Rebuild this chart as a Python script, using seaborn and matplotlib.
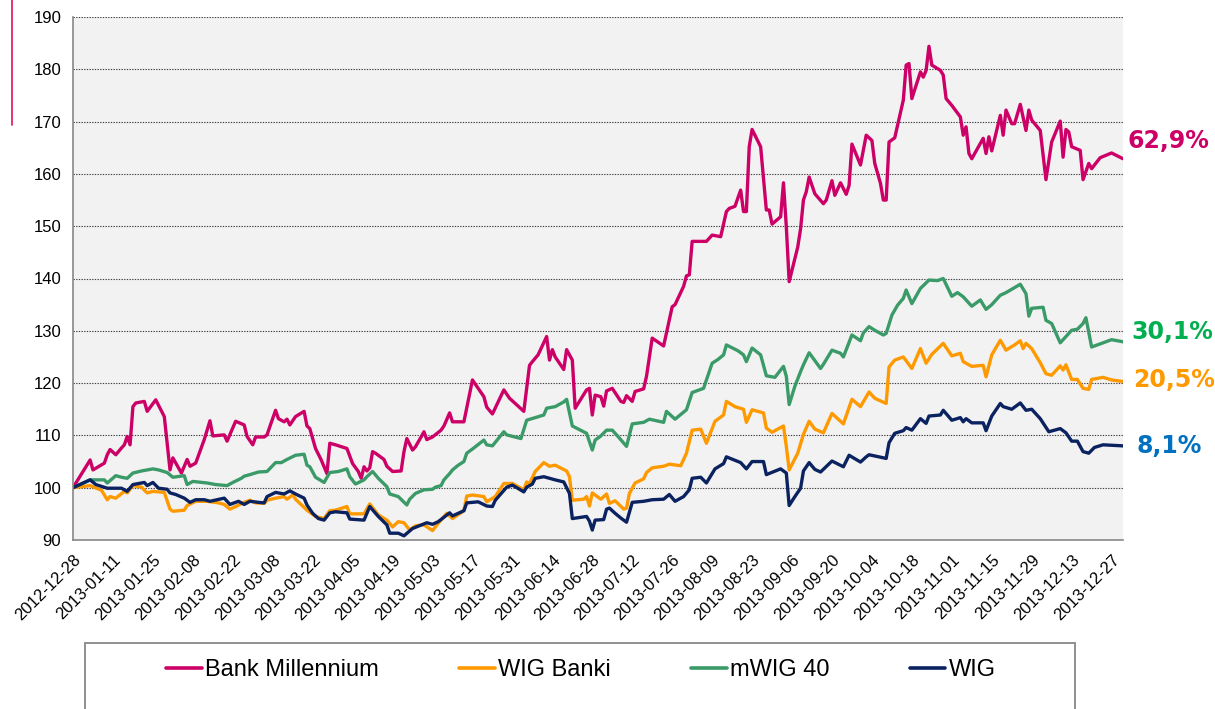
import pandas as pd
import numpy as np
import matplotlib
matplotlib.use("Agg")
import matplotlib.pyplot as plt
import matplotlib.dates as mdates
from matplotlib.lines import Line2D
from matplotlib.patches import Rectangle
from matplotlib.transforms import blended_transform_factory
import seaborn as sns

# --- data: day offsets from 2012-12-28 and index values (start = 100) ---
start = pd.Timestamp("2012-12-28")

bm_day = [0, 6, 7, 11, 12, 13, 15, 17, 18, 19,
          20, 21, 22, 25, 26, 29, 32, 34, 35, 38,
          40, 41, 43, 46, 48, 49, 53, 54, 57, 60,
          61, 63, 64, 67, 68, 69, 71, 72, 74, 75,
          76, 78, 81, 82, 83, 85, 87, 89, 90, 92,
          96, 98, 100, 101, 102, 103, 104, 105, 106, 109,
          110, 112, 115, 116, 117, 119, 120, 122, 123, 124,
          126, 129, 130, 132, 133, 137, 140, 144, 145, 147,
          151, 153, 158, 160, 161, 163, 166, 167, 168, 169,
          172, 173, 175, 176, 180, 181, 182, 183, 185, 186,
          187, 189, 192, 193, 194, 196, 197, 200, 201, 203,
          207, 210, 211, 214, 215, 216, 217, 222, 224, 227,
          229, 230, 232, 234, 235, 236, 237, 238, 241, 243,
          244, 245, 248, 249, 250, 251, 254, 255, 256, 257,
          258, 260, 263, 264, 266, 267, 269, 271, 272, 273,
          276, 278, 280, 281, 283, 284, 285, 286, 288, 291,
          292, 293, 294, 297, 298, 299, 300, 301, 304, 305,
          306, 308, 311, 312, 313, 314, 315, 319, 320, 321,
          322, 325, 326, 327, 329, 330, 332, 334, 335, 336,
          339, 341, 343, 346, 347, 348, 349, 350, 353, 354,
          356, 357, 360, 364, 368]
bm_val = [100, 105.3, 103.4, 104.7, 106.3, 107.3, 106.3, 107.6, 108.2, 109.8,
          108.2, 115.5, 116.2, 116.5, 114.6, 116.8, 113.6, 103.4, 105.7, 102.8,
          105.4, 104.1, 104.7, 109.2, 112.8, 109.9, 110.1, 108.9, 112.7, 112.0,
          109.8, 108.2, 109.7, 109.7, 110.1, 111.7, 114.8, 113.2, 112.6, 113.1,
          112.0, 113.6, 114.6, 111.8, 111.3, 107.5, 105.3, 102.7, 108.5, 108.2,
          107.5, 104.6, 103.1, 101.8, 104.0, 103.2, 103.8, 106.9, 106.6, 105.4,
          104.1, 103.1, 103.2, 106.9, 109.4, 107.2, 107.8, 109.7, 110.7, 109.2,
          109.7, 111.0, 111.8, 114.3, 112.6, 112.6, 120.6, 117.4, 115.4, 114.1,
          118.7, 117.1, 114.6, 123.4, 124.1, 125.4, 128.9, 124.4, 126.4, 125.0,
          122.6, 126.4, 124.4, 115.2, 118.7, 119.0, 113.9, 117.7, 117.4, 115.6,
          118.5, 119.0, 116.5, 116.3, 117.6, 116.5, 118.4, 118.9, 121.3, 128.6,
          127.1, 134.6, 135.0, 138.5, 140.5, 140.7, 147.1, 147.1, 148.3, 148.0,
          152.8, 153.4, 153.8, 156.9, 152.8, 152.8, 165.2, 168.5, 165.2, 153.1,
          153.1, 150.4, 151.8, 158.3, 149.9, 139.4, 146.0, 149.5, 155.0, 156.6,
          159.4, 156.2, 154.3, 155.0, 158.7, 155.9, 158.3, 156.1, 157.8, 165.7,
          161.7, 167.4, 166.4, 162.0, 158.2, 155.0, 155.0, 166.1, 166.9, 174.1,
          180.8, 181.1, 174.4, 179.5, 178.5, 179.8, 184.4, 180.8, 179.8, 178.9,
          174.4, 173.1, 170.9, 167.4, 169.0, 163.9, 162.9, 166.8, 163.9, 167.1,
          164.4, 171.2, 167.4, 172.2, 169.6, 169.6, 173.3, 168.3, 172.2, 170.3,
          168.3, 158.9, 166.1, 170.1, 163.2, 168.5, 168.0, 165.2, 164.5, 158.9,
          162.0, 161.0, 163.1, 164.0, 162.9]

wb_day = [0, 6, 10, 12, 13, 15, 18, 19, 21, 24,
          26, 28, 30, 32, 34, 35, 39, 40, 43, 47,
          51, 53, 55, 57, 60, 62, 64, 67, 68, 71,
          74, 75, 77, 78, 82, 85, 88, 90, 92, 96,
          97, 102, 104, 107, 110, 112, 114, 116, 118, 120,
          123, 126, 128, 131, 133, 137, 138, 140, 144, 145,
          148, 151, 154, 158, 159, 160, 162, 165, 167, 169,
          173, 174, 175, 179, 180, 181, 182, 185, 187, 188,
          190, 193, 194, 195, 197, 200, 201, 203, 207, 209,
          213, 215, 217, 220, 222, 225, 228, 229, 232, 235,
          236, 238, 242, 243, 245, 249, 250, 251, 254, 256,
          258, 260, 263, 266, 270, 273, 276, 279, 281, 285,
          286, 288, 291, 294, 297, 299, 301, 305, 308, 311,
          312, 315, 319, 320, 322, 325, 327, 330, 332, 333,
          334, 336, 339, 341, 343, 346, 347, 348, 350, 352,
          354, 356, 357, 361, 364, 368]
wb_val = [100, 100.4, 99.5, 97.7, 98.3, 98.0, 99.3, 99.0, 100.4, 100.1,
          99.0, 99.3, 99.2, 99.1, 95.9, 95.5, 95.7, 96.6, 97.4, 97.4,
          97.1, 96.8, 95.9, 96.4, 97.2, 97.6, 97.1, 97.0, 97.6, 98.0,
          98.3, 97.8, 98.6, 97.8, 95.7, 94.5, 94.1, 95.6, 95.7, 96.4,
          95.0, 95.0, 96.9, 94.8, 93.8, 92.5, 93.5, 93.3, 91.9, 92.7,
          92.9, 91.8, 93.2, 95.1, 94.1, 95.6, 98.4, 98.6, 98.3, 97.3,
          98.3, 100.8, 100.8, 99.6, 101.1, 100.8, 103.1, 104.8, 104.1, 104.3,
          103.2, 102.1, 97.6, 97.8, 98.3, 96.5, 99.0, 97.8, 98.8, 97.0,
          97.5, 95.9, 96.1, 98.9, 100.9, 101.7, 102.9, 103.8, 104.1, 104.5,
          104.2, 106.6, 111.0, 111.2, 108.5, 112.7, 113.9, 116.5, 115.5, 115.0,
          112.5, 114.9, 114.3, 111.4, 110.6, 111.8, 107.9, 103.4, 106.6, 110.2,
          112.7, 111.2, 110.5, 114.2, 112.2, 116.9, 115.5, 118.3, 117.1, 116.1,
          123.1, 124.4, 125.0, 122.8, 126.6, 123.8, 125.5, 127.6, 125.2, 125.7,
          124.1, 123.2, 123.4, 121.2, 125.4, 128.2, 126.3, 127.3, 128.1, 126.6,
          127.6, 126.6, 123.9, 121.8, 121.5, 123.3, 122.5, 123.5, 120.7, 120.7,
          119.0, 118.8, 120.7, 121.1, 120.6, 120.3]

mw_day = [0, 6, 11, 12, 15, 17, 19, 21, 24, 28,
          30, 33, 35, 39, 40, 42, 47, 50, 54, 56,
          59, 60, 62, 65, 68, 71, 73, 75, 78, 81,
          82, 83, 85, 88, 90, 93, 96, 97, 99, 102,
          103, 105, 107, 110, 111, 114, 117, 118, 120, 123,
          126, 127, 129, 130, 132, 133, 135, 137, 138, 140,
          144, 145, 147, 151, 152, 157, 159, 165, 166, 169,
          172, 173, 175, 180, 182, 183, 185, 187, 189, 191,
          194, 196, 200, 202, 207, 208, 211, 215, 217, 221,
          224, 226, 228, 229, 233, 235, 236, 238, 241, 243,
          246, 249, 250, 251, 253, 255, 256, 258, 262, 263,
          266, 269, 270, 273, 276, 277, 279, 281, 284, 285,
          287, 289, 291, 292, 294, 297, 300, 303, 305, 308,
          310, 312, 315, 318, 320, 322, 325, 327, 332, 334,
          335, 336, 340, 341, 343, 346, 348, 350, 352, 354,
          355, 357, 364, 368]
mw_val = [100, 101.5, 101.5, 100.9, 102.3, 102.0, 101.8, 102.8, 103.2, 103.6,
          103.4, 102.9, 102.0, 102.3, 100.6, 101.2, 100.9, 100.6, 100.4, 101.0,
          101.8, 102.2, 102.5, 103.0, 103.1, 104.8, 104.8, 105.4, 106.2, 106.4,
          104.3, 104.0, 102.0, 101.0, 102.9, 103.1, 103.6, 102.1, 100.7, 101.5,
          102.1, 103.1, 101.8, 100.2, 98.8, 98.3, 96.7, 97.8, 98.9, 99.6,
          99.7, 100.1, 100.4, 101.5, 102.7, 103.4, 104.3, 105.0, 106.6, 107.4,
          109.1, 108.2, 108.0, 110.7, 110.1, 109.4, 112.9, 113.9, 115.2, 115.5,
          116.4, 116.9, 111.8, 110.4, 107.2, 109.1, 109.9, 111.0, 111.0, 109.8,
          107.9, 112.2, 112.5, 113.1, 112.5, 114.6, 113.1, 114.9, 118.2, 119.0,
          123.8, 124.5, 125.4, 127.3, 126.2, 125.4, 124.1, 126.7, 125.4, 121.4,
          121.1, 123.2, 121.3, 115.9, 119.4, 122.2, 123.5, 125.8, 122.8, 123.6,
          126.3, 125.7, 125.0, 129.2, 128.1, 129.6, 130.8, 130.1, 129.2, 129.5,
          133.0, 134.9, 136.2, 137.8, 135.2, 138.1, 139.7, 139.6, 140.0, 136.6,
          137.3, 136.5, 134.7, 135.9, 134.1, 135.0, 136.8, 137.3, 138.9, 137.1,
          132.8, 134.3, 134.5, 132.0, 131.4, 127.7, 128.9, 130.1, 130.3, 131.4,
          132.5, 126.9, 128.3, 127.9]

wig_day = [0, 6, 8, 12, 17, 19, 21, 25, 26, 28,
           30, 33, 34, 36, 39, 41, 43, 46, 48, 53,
           55, 58, 60, 62, 65, 67, 68, 71, 74, 76,
           78, 81, 82, 84, 86, 88, 90, 92, 96, 97,
           102, 104, 107, 110, 111, 114, 116, 119, 124, 126,
           128, 132, 133, 135, 137, 138, 142, 145, 147, 148,
           152, 154, 158, 159, 161, 162, 165, 167, 169, 172,
           174, 175, 180, 181, 182, 183, 186, 187, 188, 190,
           192, 194, 196, 200, 203, 207, 209, 211, 214, 216,
           217, 220, 222, 225, 228, 229, 234, 236, 238, 242,
           243, 248, 250, 251, 253, 255, 256, 258, 260, 262,
           266, 270, 272, 276, 278, 279, 285, 286, 288, 291,
           292, 294, 297, 299, 300, 304, 305, 308, 311, 312,
           313, 315, 319, 320, 322, 325, 326, 329, 332, 334,
           336, 339, 342, 346, 348, 350, 352, 354, 356, 358,
           361, 368]
wig_val = [100, 101.5, 100.6, 99.9, 99.9, 99.3, 100.6, 101.0, 100.4, 101.0,
           99.9, 99.7, 99.0, 98.7, 98.0, 97.2, 97.7, 97.7, 97.4, 98.0,
           96.8, 97.4, 96.8, 97.4, 97.2, 97.1, 98.3, 99.1, 98.8, 99.4,
           98.8, 98.0, 96.7, 95.1, 94.1, 93.8, 95.2, 95.4, 95.2, 94.0,
           93.8, 96.4, 94.5, 92.9, 91.3, 91.3, 90.8, 92.2, 93.3, 93.0,
           93.5, 95.2, 94.6, 95.1, 95.6, 97.1, 97.3, 96.5, 96.4, 97.6,
           100.1, 100.5, 99.2, 100.1, 100.7, 101.8, 102.1, 101.8, 101.5, 101.1,
           98.9, 94.1, 94.5, 93.6, 91.9, 93.8, 93.9, 95.9, 96.1, 95.1,
           94.2, 93.4, 97.2, 97.4, 97.7, 97.8, 98.7, 97.4, 98.3, 99.6,
           101.8, 102.0, 100.9, 103.6, 104.6, 105.9, 104.8, 103.6, 105.0, 105.0,
           102.5, 103.6, 102.8, 96.6, 98.3, 99.9, 103.2, 104.8, 103.5, 103.0,
           105.1, 104.0, 106.2, 104.9, 105.9, 106.3, 105.6, 108.6, 110.4, 110.9,
           111.5, 111.0, 113.2, 112.3, 113.7, 113.9, 114.8, 112.9, 113.4, 112.6,
           113.2, 112.4, 112.4, 110.9, 113.7, 116.1, 115.5, 115.0, 116.2, 114.8,
           115.0, 113.2, 110.7, 111.3, 110.5, 108.9, 108.9, 106.9, 106.6, 107.7,
           108.2, 108.0]

series_names = ["Bank Millennium", "WIG Banki", "mWIG 40", "WIG"]
line_colors = ["#CC0066", "#FF9900", "#3A9A68", "#0B2260"]
end_labels = ["62,9%", "20,5%", "30,1%", "8,1%"]
label_colors = ["#CC0066", "#FF9900", "#00B050", "#0070C0"]

# build one long table for seaborn
frames = []
for name, d, v in zip(series_names,
                      [bm_day, wb_day, mw_day, wig_day],
                      [bm_val, wb_val, mw_val, wig_val]):
    assert len(d) == len(v), name
    frames.append(pd.DataFrame({
        "date": start + pd.to_timedelta(d, unit="D"),
        "value": v,
        "series": name,
    }))
df = pd.concat(frames, ignore_index=True)

sns.set_style("white")
plt.rcParams["font.family"] = ["Liberation Sans", "DejaVu Sans"]
plt.rcParams["text.color"] = "black"

fig = plt.figure(figsize=(12.15, 7.09), dpi=100)
ax = fig.add_axes([73 / 1215, 1 - 540 / 709, 1050 / 1215, 523 / 709])
ax.set_facecolor("#F2F2F2")

sns.lineplot(data=df, x="date", y="value", hue="series",
             hue_order=series_names, palette=dict(zip(series_names, line_colors)),
             estimator=None, linewidth=2.4, legend=False, ax=ax)

# axes
ax.set_ylim(90, 190)
ax.set_yticks(np.arange(90, 191, 10))
ax.set_xlim(start, pd.Timestamp("2013-12-31"))
ticks = pd.date_range(start, "2013-12-27", freq="14D")
ax.set_xticks(ticks)
ax.xaxis.set_major_formatter(mdates.DateFormatter("%Y-%m-%d"))
ax.set_xlabel("")
ax.set_ylabel("")

ax.yaxis.grid(True, linestyle=(0, (1.2, 1.2)), color="#404040", linewidth=0.8)
ax.xaxis.grid(False)
for s in ["top", "right"]:
    ax.spines[s].set_visible(False)
for s in ["left", "bottom"]:
    ax.spines[s].set_color("#888888")
    ax.spines[s].set_linewidth(1.2)

ax.tick_params(axis="both", which="major", direction="out", length=5,
               width=1, color="#888888", labelsize=12, labelcolor="black")
ax.tick_params(axis="x", pad=4)
for lbl in ax.get_xticklabels():
    lbl.set_rotation(45)
    lbl.set_ha("right")
    lbl.set_va("top")
    lbl.set_rotation_mode("anchor")

# end-of-line percentage labels
tr = blended_transform_factory(ax.transAxes, ax.transData)
label_pos = [(1.004, 166.3), (1.0095, 120.6), (1.0076, 129.8), (1.013, 108.0)]
for txt, col, (lx, ly) in zip(end_labels, label_colors, label_pos):
    ax.text(lx, ly, txt, transform=tr, color=col, fontsize=17,
            fontweight="bold", family="DejaVu Sans", va="center", ha="left",
            clip_on=False)

# legend box at the bottom
fig.add_artist(Rectangle((85 / 1215, -0.02), 990 / 1215, (709 - 643) / 709 + 0.02,
                         transform=fig.transFigure, facecolor="white",
                         edgecolor="#888888", linewidth=1.3))
handles = [Line2D([0], [0], color=c, linewidth=2.6) for c in line_colors]
fig.legend(handles, series_names, loc="center", ncol=4, frameon=False,
           bbox_to_anchor=(581 / 1215, 1 - 670 / 709), fontsize=17,
           handlelength=1.5, handletextpad=0.15, columnspacing=3.4)

# small accent line in the top-left corner
fig.add_artist(Line2D([12 / 1215, 12 / 1215], [1, 1 - 125 / 709],
                      transform=fig.transFigure, color="#E0115F", linewidth=1.2))

fig.savefig("out.png", dpi=100)
